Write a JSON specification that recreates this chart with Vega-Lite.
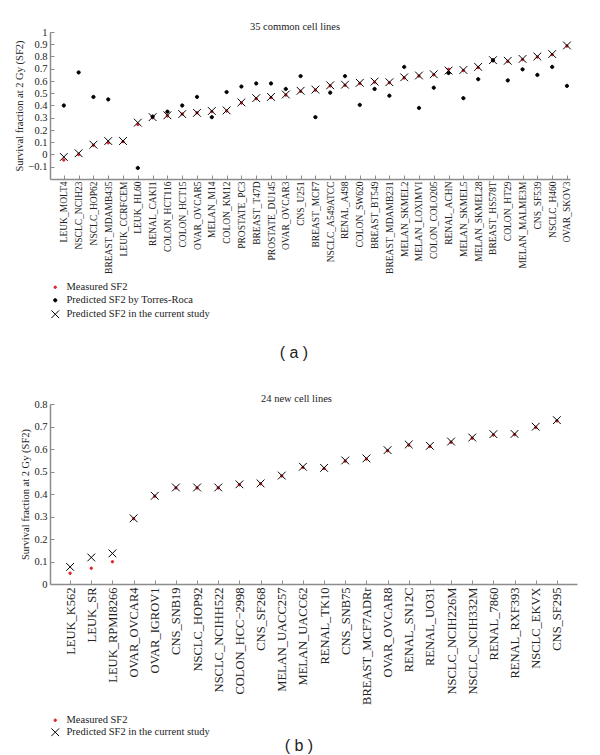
{
  "$schema": "https://vega.github.io/schema/vega-lite/v6.json",
  "padding": {"left": 14, "top": 21, "right": 5, "bottom": 0},
  "config": {
    "font": "Liberation Serif",
    "view": {"stroke": null},
    "axis": {"grid": false, "domainColor": "#8c8c8c", "domainWidth": 1.5, "tickColor": "#8c8c8c", "tickSize": -4, "labelPadding": 7, "labelColor": "#222222", "labelFont": "Liberation Serif", "titleFont": "Liberation Serif", "titleFontWeight": "normal", "titleColor": "#222222", "titleFontSize": 10.5, "labelFontSize": 10.5},
    "legend": {"orient": "bottom", "direction": "vertical", "title": null, "labelFont": "Liberation Serif", "labelFontSize": 10.5, "labelColor": "#222222", "rowPadding": 2, "symbolStrokeWidth": 1, "symbolSize": 60, "labelOffset": 6},
    "title": {"font": "Liberation Serif", "fontWeight": "normal", "fontSize": 10.5, "color": "#222222"}
  },
  "datasets": {
    "common": [
      {"line": "LEUK_MOLT4", "m": -0.045, "t": 0.40, "c": -0.02},
      {"line": "NSCLC_NCIH23", "m": 0.0, "t": 0.67, "c": 0.01},
      {"line": "NSCLC_HOP62", "m": 0.075, "t": 0.47, "c": 0.08},
      {"line": "BREAST_MDAMB435", "m": 0.095, "t": 0.45, "c": 0.11},
      {"line": "LEUK_CCRFCEM", "m": 0.105, "t": null, "c": 0.11},
      {"line": "LEUK_HL60", "m": 0.245, "t": -0.11, "c": 0.26},
      {"line": "RENAL_CAKI1", "m": 0.30, "t": 0.31, "c": 0.305},
      {"line": "COLON_HCT116", "m": 0.315, "t": 0.35, "c": 0.32},
      {"line": "COLON_HCT15", "m": 0.33, "t": 0.40, "c": 0.33},
      {"line": "OVAR_OVCAR5", "m": 0.34, "t": 0.47, "c": 0.34},
      {"line": "MELAN_M14", "m": 0.35, "t": 0.305, "c": 0.355},
      {"line": "COLON_KM12", "m": 0.355, "t": 0.51, "c": 0.36},
      {"line": "PROSTATE_PC3", "m": 0.42, "t": 0.555, "c": 0.425},
      {"line": "BREAST_T47D", "m": 0.455, "t": 0.58, "c": 0.46},
      {"line": "PROSTATE_DU145", "m": 0.465, "t": 0.58, "c": 0.47},
      {"line": "OVAR_OVCAR3", "m": 0.485, "t": 0.535, "c": 0.49},
      {"line": "CNS_U251", "m": 0.515, "t": 0.64, "c": 0.52},
      {"line": "BREAST_MCF7", "m": 0.525, "t": 0.305, "c": 0.53},
      {"line": "NSCLC_A549ATCC", "m": 0.56, "t": 0.505, "c": 0.565},
      {"line": "RENAL_A498", "m": 0.565, "t": 0.64, "c": 0.57},
      {"line": "COLON_SW620", "m": 0.58, "t": 0.405, "c": 0.585},
      {"line": "BREAST_BT549", "m": 0.59, "t": 0.535, "c": 0.595},
      {"line": "BREAST_MDAMB231", "m": 0.585, "t": 0.48, "c": 0.59},
      {"line": "MELAN_SKMEL2", "m": 0.625, "t": 0.715, "c": 0.63},
      {"line": "MELAN_LOXIMVI", "m": 0.64, "t": 0.38, "c": 0.645},
      {"line": "COLON_COLO205", "m": 0.65, "t": 0.545, "c": 0.655},
      {"line": "RENAL_ACHN", "m": 0.695, "t": 0.665, "c": 0.685},
      {"line": "MELAN_SKMEL5", "m": 0.685, "t": 0.46, "c": 0.69},
      {"line": "MELAN_SKMEL28", "m": 0.71, "t": 0.615, "c": 0.715},
      {"line": "BREAST_HS578T", "m": 0.765, "t": 0.77, "c": 0.77},
      {"line": "COLON_HT29", "m": 0.76, "t": 0.605, "c": 0.765},
      {"line": "MELAN_MALME3M", "m": 0.775, "t": 0.695, "c": 0.78},
      {"line": "CNS_SF539", "m": 0.795, "t": 0.65, "c": 0.80},
      {"line": "NSCLC_H460", "m": 0.815, "t": 0.715, "c": 0.82},
      {"line": "OVAR_SKOV3", "m": 0.885, "t": 0.56, "c": 0.89}
    ],
    "newlines": [
      {"line": "LEUK_K562", "m": 0.048, "c": 0.076},
      {"line": "LEUK_SR", "m": 0.07, "c": 0.118},
      {"line": "LEUK_RPMI8266", "m": 0.099, "c": 0.136},
      {"line": "OVAR_OVCAR4", "m": 0.29, "c": 0.292},
      {"line": "OVAR_IGROV1", "m": 0.39, "c": 0.392},
      {"line": "CNS_SNB19", "m": 0.427, "c": 0.429},
      {"line": "NSCLC_HOP92", "m": 0.427, "c": 0.429},
      {"line": "NSCLC_NCIHH522", "m": 0.427, "c": 0.429},
      {"line": "COLON_HCC−2998", "m": 0.441, "c": 0.443},
      {"line": "CNS_SF268", "m": 0.445, "c": 0.447},
      {"line": "MELAN_UACC257", "m": 0.48, "c": 0.482},
      {"line": "MELAN_UACC62", "m": 0.518, "c": 0.521},
      {"line": "RENAL_TK10", "m": 0.513, "c": 0.516},
      {"line": "CNS_SNB75", "m": 0.546, "c": 0.549},
      {"line": "BREAST_MCF7ADRr", "m": 0.555, "c": 0.558},
      {"line": "OVAR_OVCAR8", "m": 0.592, "c": 0.595},
      {"line": "RENAL_SN12C", "m": 0.617, "c": 0.62},
      {"line": "RENAL_UO31", "m": 0.611, "c": 0.614},
      {"line": "NSCLC_NCIH226M", "m": 0.63, "c": 0.633},
      {"line": "NSCLC_NCIH332M", "m": 0.648, "c": 0.651},
      {"line": "RENAL_7860", "m": 0.662, "c": 0.666},
      {"line": "RENAL_RXF393", "m": 0.664, "c": 0.667},
      {"line": "NSCLC_EKVX", "m": 0.696, "c": 0.699},
      {"line": "CNS_SF295", "m": 0.725, "c": 0.728}
    ]
  },
  "spacing": 32,
  "resolve": {"scale": {"shape": "independent", "fill": "independent", "stroke": "independent", "x": "independent", "y": "independent"}, "legend": {"shape": "independent", "fill": "independent", "stroke": "independent"}},
  "vconcat": [
    {
      "title": {"text": "( a )", "orient": "bottom", "font": "Liberation Sans", "fontSize": 16, "anchor": "middle", "offset": 24},
      "vconcat": [
        {
          "title": {"text": "35 common cell lines", "offset": -5, "dx": -15},
          "width": 520,
          "height": 147,
          "data": {"name": "common"},
          "transform": [{"fold": ["m", "t", "c"], "as": ["key", "sf2"]}],
          "mark": {"type": "point", "opacity": 1, "strokeWidth": 1, "size": 60},
          "encoding": {
            "x": {"field": "line", "type": "nominal", "sort": null, "scale": {"type": "point", "padding": 0.57, "align": 0.82}, "axis": {"title": null, "labelAngle": -90, "labelFontSize": 9.5, "labelPadding": 6}},
            "y": {"field": "sf2", "type": "quantitative", "scale": {"domain": [-0.2, 1], "nice": false, "zero": false}, "axis": {"values": [-0.1, 0, 0.1, 0.2, 0.3, 0.4, 0.5, 0.6, 0.7, 0.8, 0.9, 1], "format": "~g", "title": "Survival fraction at 2 Gy (SF2)", "titlePadding": 3}},
            "shape": {"field": "key", "type": "nominal", "scale": {"domain": ["m", "t", "c"], "range": ["M-0.32,0A0.32,0.32,0,1,1,0.32,0A0.32,0.32,0,1,1,-0.32,0Z", "M-0.42,0A0.42,0.42,0,1,1,0.42,0A0.42,0.42,0,1,1,-0.42,0Z", "M-1,-1L1,1M-1,1L1,-1"]}, "legend": {"offset": 8, "labelExpr": "datum.label == 'm' ? 'Measured SF2' : datum.label == 't' ? 'Predicted SF2 by Torres-Roca' : 'Predicted SF2 in the current study'"}},
            "fill": {"field": "key", "type": "nominal", "scale": {"domain": ["m", "t", "c"], "range": ["#e3242b", "#000000", "transparent"]}, "legend": {"offset": 8, "labelExpr": "datum.label == 'm' ? 'Measured SF2' : datum.label == 't' ? 'Predicted SF2 by Torres-Roca' : 'Predicted SF2 in the current study'"}},
            "stroke": {"field": "key", "type": "nominal", "scale": {"domain": ["m", "t", "c"], "range": ["#e3242b", "#000000", "#000000"]}, "legend": {"offset": 8, "labelExpr": "datum.label == 'm' ? 'Measured SF2' : datum.label == 't' ? 'Predicted SF2 by Torres-Roca' : 'Predicted SF2 in the current study'"}}
          }
        }
      ]
    },
    {
      "title": {"text": "( b )", "orient": "bottom", "font": "Liberation Sans", "fontSize": 16, "anchor": "middle", "offset": -1},
      "vconcat": [
        {
          "title": {"text": "24 new cell lines", "offset": -5, "dx": -17},
          "width": 527,
          "height": 180,
          "data": {"name": "newlines"},
          "transform": [{"fold": ["m", "c"], "as": ["key", "sf2"]}],
          "mark": {"type": "point", "opacity": 1, "strokeWidth": 1, "size": 60},
          "encoding": {
            "x": {"field": "line", "type": "nominal", "sort": null, "scale": {"type": "point", "padding": 0.95}, "axis": {"title": null, "labelAngle": -90, "labelFontSize": 12.5}},
            "y": {"field": "sf2", "type": "quantitative", "scale": {"domain": [0, 0.8], "nice": false}, "axis": {"values": [0, 0.1, 0.2, 0.3, 0.4, 0.5, 0.6, 0.7, 0.8], "format": "~g", "title": "Survival fraction at 2 Gy (SF2)", "titlePadding": 3}},
            "shape": {"field": "key", "type": "nominal", "scale": {"domain": ["m", "c"], "range": ["M-0.32,0A0.32,0.32,0,1,1,0.32,0A0.32,0.32,0,1,1,-0.32,0Z", "M-1,-1L1,1M-1,1L1,-1"]}, "legend": {"offset": 10, "rowPadding": 0, "labelExpr": "datum.label == 'm' ? 'Measured SF2' : 'Predicted SF2 in the current study'"}},
            "fill": {"field": "key", "type": "nominal", "scale": {"domain": ["m", "c"], "range": ["#e3242b", "transparent"]}, "legend": {"offset": 10, "rowPadding": 0, "labelExpr": "datum.label == 'm' ? 'Measured SF2' : 'Predicted SF2 in the current study'"}},
            "stroke": {"field": "key", "type": "nominal", "scale": {"domain": ["m", "c"], "range": ["#e3242b", "#000000"]}, "legend": {"offset": 10, "rowPadding": 0, "labelExpr": "datum.label == 'm' ? 'Measured SF2' : 'Predicted SF2 in the current study'"}}
          }
        }
      ]
    }
  ]
}
